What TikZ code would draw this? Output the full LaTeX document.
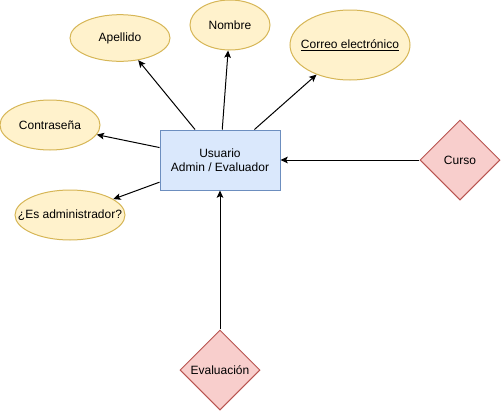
\documentclass[tikz,border=0pt]{standalone}
\usepackage{fontspec}
\setmainfont{Liberation Sans}
\usetikzlibrary{shapes.geometric,arrows.meta}
\definecolor{attrfill}{HTML}{FFF2CC}
\definecolor{attrdraw}{HTML}{D6B656}
\definecolor{entfill}{HTML}{DAE8FC}
\definecolor{entdraw}{HTML}{6C8EBF}
\definecolor{relfill}{HTML}{F8CECC}
\definecolor{reldraw}{HTML}{B85450}
\tikzset{%
    % style for the entity box
    entity/.style={%
        draw=entdraw,
        fill=entfill,
        shape=rectangle,
        align=center,
        minimum width=90pt,
        minimum height=45pt,
        line width=0.75pt,
    },
    % style for the attributes, the text may be
    % wider than the ellipse itself
    attribute/.style={%
        draw=attrdraw,
        fill=attrfill,
        shape=ellipse,
        inner xsep=-12pt,
        inner ysep=0pt,
        line width=0.75pt,
    },
    % style for the relations
    relation/.style={%
        draw=reldraw,
        fill=relfill,
        shape=diamond,
        inner sep=0pt,
        minimum width=60pt,
        minimum height=60pt,
        line width=0.75pt,
    },
    % style for the links
    link/.style={%
        line width=0.75pt,
        -{Stealth[length=5.5pt,width=5pt,inset=1.2pt]},
    },
}

\begin{document}
\begin{tikzpicture}[x=0.75pt,y=-0.75pt,font=\fontsize{9pt}{10.5pt}\selectfont]
    % keep the margins of the picture
    \useasboundingbox (0,0) rectangle (501,411);
    % entity
    \node (usr) at (220,160) [entity] {Usuario\\Admin / Evaluador};
    % attributes
    \node (ape) at (120,38) [attribute, minimum width=75pt, minimum height=35pt] {Apellido};
    \node (nom) at (230,25) [attribute, minimum width=60pt, minimum height=37.5pt] {Nombre};
    \node (cor) at (350,45) [attribute, minimum width=90pt, minimum height=52.5pt]
          {\underline{Correo electrónico}};
    \node (con) at (50,125) [attribute, minimum width=75pt, minimum height=37.5pt] {Contraseña};
    \node (adm) at (70,215) [attribute, minimum width=82.5pt, minimum height=37.5pt]
          {¿Es administrador?};
    % relations
    \node (cur) at (460,160) [relation] {Curso};
    \node (eva) at (220,370) [relation] {Evaluación};
    % links
    \draw [link] (usr) -- (ape);
    \draw [link] (usr) -- (nom);
    \draw [link] (usr) -- (cor);
    \draw [link] (usr) -- (con);
    \draw [link] (usr) -- (adm);
    \draw [link] (cur) -- (usr);
    \draw [link] (eva) -- (usr);
\end{tikzpicture}
\end{document}
